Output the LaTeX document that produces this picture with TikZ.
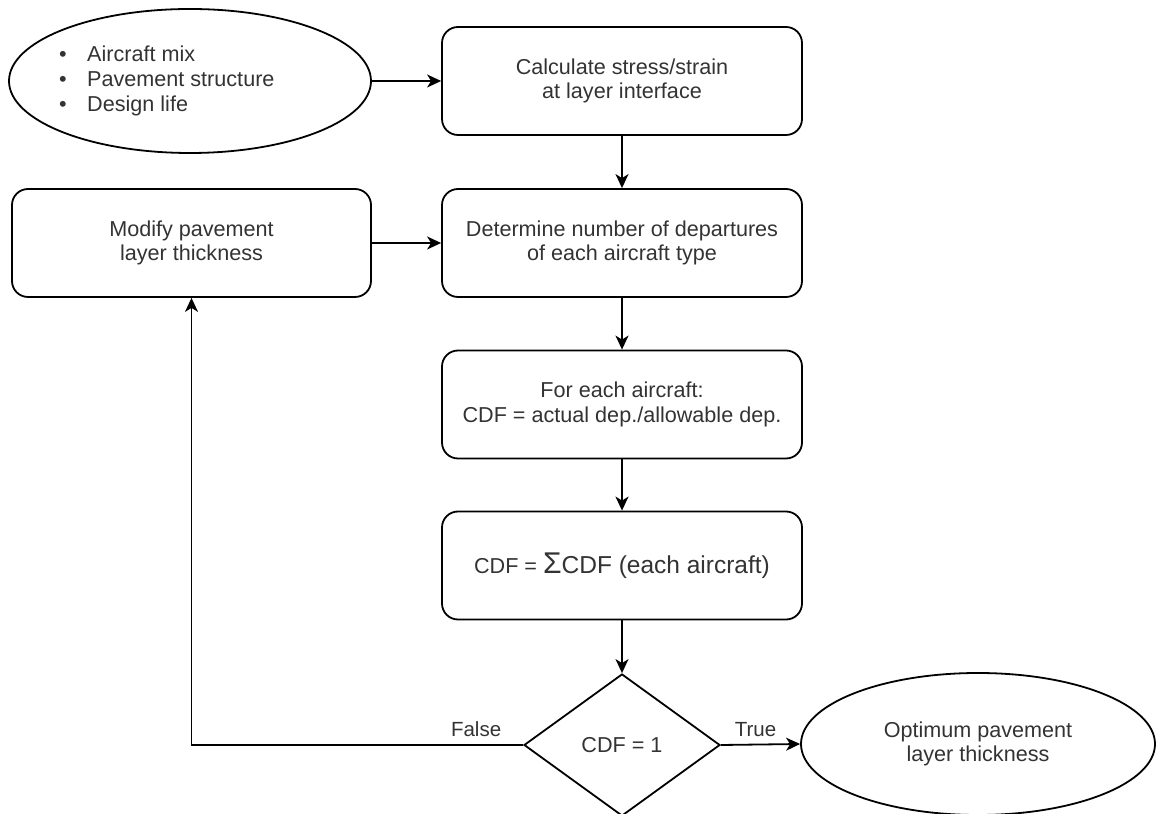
\documentclass[tikz,border=0pt]{standalone}
\usepackage{fontspec}
\setmainfont{Liberation Sans}
\usetikzlibrary{shapes.geometric,arrows.meta}
\definecolor{ink}{HTML}{333333}
\begin{document}
\begin{tikzpicture}[x=1pt,y=1pt,
  every node/.style={text=ink, font=\fontsize{21.6}{24.8}\selectfont},
  outline/.style={draw=black, line width=1.8pt, inner sep=0pt},
  stepbox/.style={outline, rounded corners=16pt, minimum width=360pt,
    minimum height=108pt, align=center},
  oval/.style={outline, ellipse, align=center},
  decision/.style={outline, diamond, minimum width=196pt, minimum height=142pt},
  flow/.style={draw=black, line width=1.8pt,
    -{Stealth[length=14pt, width=13pt, inset=4pt]}},
  branch/.style={inner sep=0pt, font=\fontsize{20.5}{24}\selectfont}]
  \useasboundingbox (0,0) rectangle (1157,814);

  % inputs
  \node[oval, minimum width=362pt, minimum height=144pt] (inputs) at (190,733) {};
  \node[anchor=west, align=left, inner sep=0pt] (inputlist) at (59,733)
    {\makebox[28pt][l]{•}Aircraft mix\\
     \makebox[28pt][l]{•}Pavement structure\\
     \makebox[28pt][l]{•}Design life};

  % process steps
  \node[stepbox] (calc) at (622,733) {Calculate stress/strain\\at layer interface};
  \node[stepbox] (deps) at (622,571) {Determine number of departures\\of each aircraft type};
  \node[stepbox, minimum width=359pt] (modify) at (191.5,571) {Modify pavement\\layer thickness};
  \node[stepbox] (cdfeach) at (622,409.5) {For each aircraft:\\CDF = actual dep./allowable dep.};
  \node[stepbox] (cdfsum) at (622,248.5)
    {CDF = {\fontsize{30}{30}\selectfont Σ}{\fontsize{24.5}{28}\selectfont CDF (each aircraft)}};

  % decision and result
  \node[decision] (check) at (622,69) {CDF = 1};
  \node[oval, minimum width=354pt, minimum height=142pt] (result) at (978,70)
    {Optimum pavement\\layer thickness};

  % connectors
  \draw[flow] (inputs.east) -- (calc.west);
  \draw[flow] (calc.south) -- (deps.north);
  \draw[flow] (modify.east) -- (deps.west);
  \draw[flow] (deps.south) -- (cdfeach.north);
  \draw[flow] (cdfeach.south) -- (cdfsum.north);
  \draw[flow] (cdfsum.south) -- (check.north);
  \draw[flow] (check.west) -| node[branch, pos=0, anchor=south east, xshift=-21pt, yshift=7pt] {False} (modify.south);
  \draw[flow] (check.east) -- node[branch, pos=0, anchor=south west, xshift=13pt, yshift=7pt] {True} (result.west);
\end{tikzpicture}
\end{document}
